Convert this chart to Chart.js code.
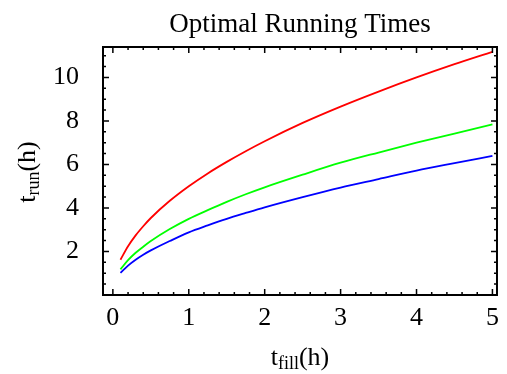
<!DOCTYPE html>
<html>
<head>
<meta charset="utf-8">
<script src="https://cdn.jsdelivr.net/npm/chart.js@4.4.0/dist/chart.umd.min.js"></script>
<style>
  html, body { margin:0; padding:0; background:#fff; }
</style>
</head>
<body>
<canvas id="grafico" width="507" height="374"></canvas>
<script>
// t_fill (h)
const tFill = [0.1, 0.2, 0.3, 0.4, 0.5, 0.75, 1, 1.25, 1.5, 1.75, 2, 2.5, 3, 3.5, 4, 4.5, 5];
// t_run (h), one list for each curve
const tRunRosso = [1.62, 2.24, 2.74, 3.16, 3.54, 4.33, 5.0, 5.59, 6.12, 6.61, 7.07, 7.91, 8.66, 9.35, 10.0, 10.61, 11.18];
const tRunVerde = [1.18, 1.6, 1.94, 2.22, 2.48, 3.03, 3.5, 3.9, 4.28, 4.63, 4.95, 5.53, 6.08, 6.55, 7.0, 7.42, 7.84];
const tRunBlu = [1.02, 1.35, 1.62, 1.85, 2.05, 2.48, 2.88, 3.2, 3.5, 3.77, 4.03, 4.5, 4.94, 5.33, 5.72, 6.06, 6.39];

const tickX = [0, 1, 2, 3, 4, 5];
const tickY = [2, 4, 6, 8, 10];
const titolo = "Optimal Running Times";

const font = '"Liberation Serif", "Times New Roman", serif';

// frame with inward ticks, title and axis labels with subscripts
const cornice = {
  id: 'cornice',
  afterDraw(chart) {
    let ctx = chart.ctx;
    let a = chart.chartArea;
    let sx = chart.scales.x, sy = chart.scales.y;
    ctx.save();
    ctx.strokeStyle = '#000';
    ctx.lineWidth = 2;
    ctx.strokeRect(a.left, a.top, a.right - a.left, a.bottom - a.top);

    ctx.lineWidth = 1.5;
    ctx.beginPath();
    for (let i = 0; i <= 25; i++) {
      let px = sx.getPixelForValue(i * 0.2);
      let len = (i % 5 == 0) ? 6 : 3;
      ctx.moveTo(px, a.bottom); ctx.lineTo(px, a.bottom - len);
      ctx.moveTo(px, a.top); ctx.lineTo(px, a.top + len);
    }
    for (let i = 1; i <= 22; i++) {
      let py = sy.getPixelForValue(i * 0.5);
      let len = (i % 4 == 0) ? 6 : 3;
      ctx.moveTo(a.left, py); ctx.lineTo(a.left + len, py);
      ctx.moveTo(a.right, py); ctx.lineTo(a.right - len, py);
    }
    ctx.stroke();

    ctx.fillStyle = '#000';
    ctx.textBaseline = 'alphabetic';
    ctx.textAlign = 'center';
    ctx.font = '27px ' + font;
    ctx.fillText(titolo, (a.left + a.right) / 2, 32);

    scriviPedice(ctx, 't', 'fill', '(h)', (a.left + a.right) / 2, 365);

    ctx.translate(35, 172);
    ctx.rotate(-Math.PI / 2);
    scriviPedice(ctx, 't', 'run', '(h)', 0, 0);
    ctx.restore();
  }
};

function scriviPedice(ctx, base, pedice, coda, cx, y) {
  ctx.textAlign = 'left';
  ctx.font = '26px ' + font;
  let w1 = ctx.measureText(base).width;
  let w3 = ctx.measureText(coda).width;
  ctx.font = '18px ' + font;
  let w2 = ctx.measureText(pedice).width;
  let x = cx - (w1 + w2 + w3) / 2;
  ctx.font = '26px ' + font;
  ctx.fillText(base, x, y);
  ctx.font = '18px ' + font;
  ctx.fillText(pedice, x + w1, y + 4);
  ctx.font = '26px ' + font;
  ctx.fillText(coda, x + w1 + w2, y);
}

function punti(valori) {
  return tFill.map((x, i) => ({ x: x, y: valori[i] }));
}

function serie(valori, colore) {
  return {
    data: punti(valori),
    borderColor: colore,
    borderWidth: 1.8,
    pointRadius: 0,
    fill: false,
    cubicInterpolationMode: 'monotone'
  };
}

window.onload = function () {
  Chart.defaults.color = '#000';
  new Chart(document.getElementById('grafico'), {
    type: 'line',
    data: {
      datasets: [
        serie(tRunRosso, '#ff0000'),
        serie(tRunVerde, '#00ff00'),
        serie(tRunBlu, '#0000ff')
      ]
    },
    options: {
      responsive: false,
      animation: false,
      layout: { padding: { top: 47, right: 6, left: 0, bottom: 0 } },
      plugins: {
        legend: { display: false },
        title: { display: false },
        tooltip: { enabled: false }
      },
      scales: {
        x: {
          type: 'linear', min: -0.13, max: 5.06,
          afterBuildTicks: s => { s.ticks = tickX.map(v => ({ value: v })); },
          afterFit: s => { s.height = 79; },
          grid: { display: false, drawTicks: false },
          border: { display: false },
          ticks: { padding: 8, color: '#000', maxRotation: 0, font: { family: font, size: 26 } }
        },
        y: {
          type: 'linear', min: 0, max: 11.4,
          afterBuildTicks: s => { s.ticks = tickY.map(v => ({ value: v })); },
          afterFit: s => { s.width = 103; },
          grid: { display: false, drawTicks: false },
          border: { display: false },
          ticks: { padding: 24, color: '#000', font: { family: font, size: 26 } }
        }
      }
    },
    plugins: [cornice]
  });
};
</script>
</body>
</html>
